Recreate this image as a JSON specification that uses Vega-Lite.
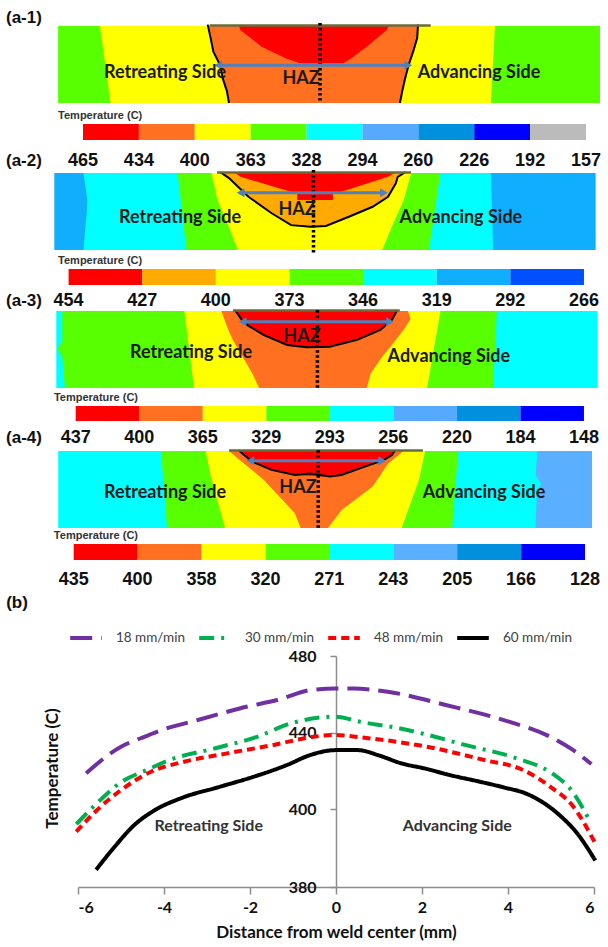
{
"$schema":"https://vega.github.io/schema/vega-lite/v6.json",
"width":608,"height":947,"autosize":"none","padding":0,"background":"white",
"config":{"view":{"stroke":null},"font":"Liberation Sans"},
"datasets":{
"curves":[
{"speed":"18 mm/min","x":-5.81,"T":418.7},{"speed":"18 mm/min","x":-5.0,"T":432.6},{"speed":"18 mm/min","x":-4.54,"T":437.0},{"speed":"18 mm/min","x":-4.0,"T":441.7},{"speed":"18 mm/min","x":-3.15,"T":446.9},{"speed":"18 mm/min","x":-2.22,"T":452.7},{"speed":"18 mm/min","x":-1.3,"T":457.4},{"speed":"18 mm/min","x":-0.6,"T":462.2},{"speed":"18 mm/min","x":0,"T":463},{"speed":"18 mm/min","x":0.4,"T":463},{"speed":"18 mm/min","x":1.2,"T":461.3},{"speed":"18 mm/min","x":2.55,"T":454.4},{"speed":"18 mm/min","x":3.9,"T":446.5},{"speed":"18 mm/min","x":4.98,"T":437.8},{"speed":"18 mm/min","x":5.5,"T":431},{"speed":"18 mm/min","x":5.94,"T":423.5},
{"speed":"30 mm/min","x":-6.04,"T":396.1},{"speed":"30 mm/min","x":-5.58,"T":402.6},{"speed":"30 mm/min","x":-5.0,"T":414.0},{"speed":"30 mm/min","x":-4.4,"T":420.4},{"speed":"30 mm/min","x":-3.9,"T":425.4},{"speed":"30 mm/min","x":-2.84,"T":431.6},{"speed":"30 mm/min","x":-1.84,"T":437.7},{"speed":"30 mm/min","x":-1.06,"T":444.7},{"speed":"30 mm/min","x":0,"T":448.3},{"speed":"30 mm/min","x":0.56,"T":445.6},{"speed":"30 mm/min","x":1.4,"T":442.5},{"speed":"30 mm/min","x":2.0,"T":439.5},{"speed":"30 mm/min","x":3.0,"T":433.5},{"speed":"30 mm/min","x":4.2,"T":426.5},{"speed":"30 mm/min","x":5.0,"T":419.0},{"speed":"30 mm/min","x":5.5,"T":409.0},{"speed":"30 mm/min","x":5.88,"T":397.4},
{"speed":"48 mm/min","x":-6.04,"T":394.2},{"speed":"48 mm/min","x":-5.58,"T":399.5},{"speed":"48 mm/min","x":-5.0,"T":409.9},{"speed":"48 mm/min","x":-4.3,"T":419.5},{"speed":"48 mm/min","x":-3.53,"T":424.7},{"speed":"48 mm/min","x":-2.53,"T":429.1},{"speed":"48 mm/min","x":-1.45,"T":433.5},{"speed":"48 mm/min","x":-0.52,"T":437.8},{"speed":"48 mm/min","x":0,"T":438.7},{"speed":"48 mm/min","x":0.56,"T":437.5},{"speed":"48 mm/min","x":1.4,"T":435.2},{"speed":"48 mm/min","x":2.1,"T":432.6},{"speed":"48 mm/min","x":3.45,"T":425.6},{"speed":"48 mm/min","x":4.35,"T":420.4},{"speed":"48 mm/min","x":4.98,"T":411.7},{"speed":"48 mm/min","x":5.52,"T":401.2},{"speed":"48 mm/min","x":6.01,"T":391.6},
{"speed":"60 mm/min","x":-5.58,"T":384.4},{"speed":"60 mm/min","x":-5.15,"T":390.3},{"speed":"60 mm/min","x":-4.69,"T":395.9},{"speed":"60 mm/min","x":-4.23,"T":399.6},{"speed":"60 mm/min","x":-3.61,"T":405.6},{"speed":"60 mm/min","x":-2.69,"T":411.7},{"speed":"60 mm/min","x":-1.91,"T":416.9},{"speed":"60 mm/min","x":-1.14,"T":423.0},{"speed":"60 mm/min","x":-0.6,"T":428.2},{"speed":"60 mm/min","x":0,"T":430.8},{"speed":"60 mm/min","x":0.5,"T":430.8},{"speed":"60 mm/min","x":1.0,"T":428.0},{"speed":"60 mm/min","x":1.5,"T":424.0},{"speed":"60 mm/min","x":2.1,"T":421.0},{"speed":"60 mm/min","x":2.6,"T":418.0},{"speed":"60 mm/min","x":3.3,"T":414.5},{"speed":"60 mm/min","x":3.9,"T":411.3},{"speed":"60 mm/min","x":4.45,"T":407.8},{"speed":"60 mm/min","x":5.17,"T":398.7},{"speed":"60 mm/min","x":5.62,"T":393.6},{"speed":"60 mm/min","x":6.03,"T":386.8}
],
"a1reg":[
{"reg":"r0","lv":4,"d":0,"xl":-9.7,"xr":10.37},{"reg":"r0","lv":4,"d":2.85,"xl":-9.7,"xr":10.37},
{"reg":"r1","lv":3,"d":0,"xl":-8.15,"xr":6.48},{"reg":"r1","lv":3,"d":2.85,"xl":-7.76,"xr":6.33},
{"reg":"r2","lv":2,"d":0,"xl":-4.16,"xr":3.63},{"reg":"r2","lv":2,"d":0.45,"xl":-4.05,"xr":3.6},{"reg":"r2","lv":2,"d":0.95,"xl":-3.95,"xr":3.45},{"reg":"r2","lv":2,"d":1.45,"xl":-3.7,"xr":3.28},{"reg":"r2","lv":2,"d":1.95,"xl":-3.6,"xr":3.15},{"reg":"r2","lv":2,"d":2.4,"xl":-3.45,"xr":3.05},{"reg":"r2","lv":2,"d":2.85,"xl":-3.37,"xr":2.96},
{"reg":"r3","lv":1,"d":0,"xl":-3.0,"xr":2.55},{"reg":"r3","lv":1,"d":0.15,"xl":-2.95,"xr":2.47},{"reg":"r3","lv":1,"d":0.77,"xl":-2.16,"xr":1.73},{"reg":"r3","lv":1,"d":1.2,"xl":-1.25,"xr":1.15},{"reg":"r3","lv":1,"d":1.38,"xl":-0.74,"xr":0.86}
],
"a1out":[
{"g":"L","s":1,"x":-4.16,"d":-0.05},{"g":"L","s":2,"x":-4.05,"d":0.45},{"g":"L","s":3,"x":-3.95,"d":0.95},{"g":"L","s":4,"x":-3.7,"d":1.45},{"g":"L","s":5,"x":-3.6,"d":1.95},{"g":"L","s":6,"x":-3.45,"d":2.4},{"g":"L","s":7,"x":-3.37,"d":2.85},
{"g":"R","s":1,"x":3.63,"d":-0.05},{"g":"R","s":2,"x":3.6,"d":0.45},{"g":"R","s":3,"x":3.45,"d":0.95},{"g":"R","s":4,"x":3.28,"d":1.45},{"g":"R","s":5,"x":3.15,"d":1.95},{"g":"R","s":6,"x":3.05,"d":2.4},{"g":"R","s":7,"x":2.96,"d":2.85}
],
"a1arr":[{"e":"L","x":-3.77,"d":1.45},{"e":"R","x":3.27,"d":1.45}],
"a1bar":[{"lv":1,"t":"465"},{"lv":2,"t":"434"},{"lv":3,"t":"400"},{"lv":4,"t":"363"},{"lv":5,"t":"328"},{"lv":6,"t":"294"},{"lv":7,"t":"260"},{"lv":8,"t":"226"},{"lv":9,"t":"192"},{"lv":10,"t":"157"}],
"a2reg":[
{"reg":"r0","lv":6,"d":0,"xl":-9.6,"xr":10.45},{"reg":"r0","lv":6,"d":2.85,"xl":-9.6,"xr":10.45},
{"reg":"r1","lv":5,"d":0,"xl":-8.52,"xr":6.57},{"reg":"r1","lv":5,"d":0.5,"xl":-8.45,"xr":6.58},{"reg":"r1","lv":5,"d":1.0,"xl":-8.38,"xr":6.6},{"reg":"r1","lv":5,"d":1.5,"xl":-8.4,"xr":6.62},{"reg":"r1","lv":5,"d":2.0,"xl":-8.45,"xr":6.63},{"reg":"r1","lv":5,"d":2.85,"xl":-8.52,"xr":6.65},
{"reg":"r2","lv":4,"d":0,"xl":-5.03,"xr":4.7},{"reg":"r2","lv":4,"d":2.85,"xl":-4.71,"xr":4.27},
{"reg":"r3","lv":3,"d":0,"xl":-3.78,"xr":3.62},{"reg":"r3","lv":3,"d":1.0,"xl":-3.56,"xr":3.34},{"reg":"r3","lv":3,"d":2.0,"xl":-3.13,"xr":2.9},{"reg":"r3","lv":3,"d":2.85,"xl":-2.81,"xr":2.54},
{"reg":"r4","lv":2,"d":0,"xl":-3.43,"xr":3.41},{"reg":"r4","lv":2,"d":0.15,"xl":-3.2,"xr":3.12},{"reg":"r4","lv":2,"d":0.4,"xl":-2.91,"xr":3.05},{"reg":"r4","lv":2,"d":0.88,"xl":-2.41,"xr":2.76},{"reg":"r4","lv":2,"d":1.25,"xl":-1.9,"xr":2.19},{"reg":"r4","lv":2,"d":1.5,"xl":-1.53,"xr":1.6},{"reg":"r4","lv":2,"d":1.62,"xl":-1.34,"xr":1.31},{"reg":"r4","lv":2,"d":1.93,"xl":-0.83,"xr":0.53},{"reg":"r4","lv":2,"d":1.96,"xl":-0.5,"xr":0.46},{"reg":"r4","lv":2,"d":1.99,"xl":-0.2,"xr":0.1},
{"reg":"r5","lv":1,"d":0,"xl":-2.9,"xr":3.0},{"reg":"r5","lv":1,"d":0.14,"xl":-2.7,"xr":2.76},{"reg":"r5","lv":1,"d":0.74,"xl":-0.69,"xr":0.89},{"reg":"r5","lv":1,"d":0.76,"xl":-0.6,"xr":0.72},{"reg":"r5","lv":1,"d":1.0,"xl":-0.6,"xr":0.72}
],
"a2out":[
{"g":"U","s":1,"x":-3.45,"d":-0.03},{"g":"U","s":2,"x":-3.13,"d":0.19},{"g":"U","s":3,"x":-2.41,"d":0.88},{"g":"U","s":4,"x":-1.55,"d":1.49},{"g":"U","s":5,"x":-0.83,"d":1.93},{"g":"U","s":6,"x":-0.11,"d":1.99},{"g":"U","s":7,"x":0.46,"d":1.96},{"g":"U","s":8,"x":1.31,"d":1.62},{"g":"U","s":9,"x":2.19,"d":1.25},{"g":"U","s":10,"x":2.76,"d":0.88},{"g":"U","s":11,"x":3.05,"d":0.38},{"g":"U","s":12,"x":3.12,"d":0.14},{"g":"U","s":13,"x":3.4,"d":-0.03}
],
"a2arr":[{"e":"L","x":-2.7,"d":0.73},{"e":"R","x":2.61,"d":0.73}],
"a2bar":[{"lv":1,"t":"454"},{"lv":2,"t":"427"},{"lv":3,"t":"400"},{"lv":4,"t":"373"},{"lv":5,"t":"346"},{"lv":6,"t":"319"},{"lv":7,"t":"292"},{"lv":8,"t":"266"}],
"a3reg":[
{"reg":"r0","lv":5,"d":0,"xl":-9.67,"xr":10.38},{"reg":"r0","lv":5,"d":2.85,"xl":-9.67,"xr":10.38},
{"reg":"r1","lv":4,"d":0,"xl":-9.45,"xr":6.64},{"reg":"r1","lv":4,"d":1.1,"xl":-9.45,"xr":6.6},{"reg":"r1","lv":4,"d":1.4,"xl":-9.62,"xr":6.58},{"reg":"r1","lv":4,"d":1.7,"xl":-9.45,"xr":6.56},{"reg":"r1","lv":4,"d":2.85,"xl":-9.35,"xr":6.5},
{"reg":"r2","lv":3,"d":0,"xl":-4.93,"xr":4.56},{"reg":"r2","lv":3,"d":2.85,"xl":-4.57,"xr":4.06},
{"reg":"r3","lv":2,"d":0,"xl":-3.56,"xr":3.35},{"reg":"r3","lv":2,"d":0.3,"xl":-3.45,"xr":3.45},{"reg":"r3","lv":2,"d":0.7,"xl":-3.3,"xr":3.19},{"reg":"r3","lv":2,"d":1.07,"xl":-3.13,"xr":2.9},{"reg":"r3","lv":2,"d":1.69,"xl":-2.77,"xr":2.4},{"reg":"r3","lv":2,"d":2.31,"xl":-2.41,"xr":1.97},{"reg":"r3","lv":2,"d":2.85,"xl":-2.16,"xr":1.83},
{"reg":"r4","lv":1,"d":0,"xl":-3.0,"xr":2.95},{"reg":"r4","lv":1,"d":0.33,"xl":-2.8,"xr":2.76},{"reg":"r4","lv":1,"d":0.46,"xl":-2.7,"xr":2.6},{"reg":"r4","lv":1,"d":0.7,"xl":-2.3,"xr":2.33},{"reg":"r4","lv":1,"d":0.89,"xl":-1.98,"xr":1.9},{"reg":"r4","lv":1,"d":1.07,"xl":-1.55,"xr":1.47},{"reg":"r4","lv":1,"d":1.26,"xl":-1.12,"xr":0.7},{"reg":"r4","lv":1,"d":1.34,"xl":-0.4,"xr":0.4}
],
"a3out":[
{"g":"U","s":1,"x":-3.05,"d":-0.03},{"g":"U","s":2,"x":-2.8,"d":0.33},{"g":"U","s":3,"x":-2.7,"d":0.46},{"g":"U","s":4,"x":-1.98,"d":0.89},{"g":"U","s":5,"x":-1.12,"d":1.26},{"g":"U","s":6,"x":-0.4,"d":1.34},{"g":"U","s":7,"x":0.46,"d":1.32},{"g":"U","s":8,"x":1.47,"d":1.07},{"g":"U","s":9,"x":2.33,"d":0.7},{"g":"U","s":10,"x":2.76,"d":0.33},{"g":"U","s":11,"x":2.95,"d":-0.03}
],
"a3arr":[{"e":"L","x":-2.77,"d":0.4},{"e":"R","x":2.69,"d":0.4}],
"a3bar":[{"lv":1,"t":"437"},{"lv":2,"t":"400"},{"lv":3,"t":"365"},{"lv":4,"t":"329"},{"lv":5,"t":"293"},{"lv":6,"t":"256"},{"lv":7,"t":"220"},{"lv":8,"t":"184"},{"lv":9,"t":"148"}],
"a4reg":[
{"reg":"r0","lv":5,"d":0,"xl":-9.63,"xr":10.14},{"reg":"r0","lv":5,"d":2.85,"xl":-9.63,"xr":10.14},
{"reg":"r1","lv":6,"d":0,"xl":8.12,"xr":10.14},{"reg":"r1","lv":6,"d":0.9,"xl":8.05,"xr":10.14},{"reg":"r1","lv":6,"d":1.2,"xl":8.26,"xr":10.14},{"reg":"r1","lv":6,"d":1.5,"xl":8.1,"xr":10.14},{"reg":"r1","lv":6,"d":2.85,"xl":8.05,"xr":10.14},
{"reg":"r2","lv":4,"d":0,"xl":-5.82,"xr":5.18},{"reg":"r2","lv":4,"d":2.85,"xl":-5.6,"xr":4.96},
{"reg":"r3","lv":3,"d":0,"xl":-4.17,"xr":3.96},{"reg":"r3","lv":3,"d":1.07,"xl":-3.95,"xr":3.73},{"reg":"r3","lv":3,"d":2.85,"xl":-3.45,"xr":3.09},
{"reg":"r4","lv":2,"d":0,"xl":-3.3,"xr":3.16},{"reg":"r4","lv":2,"d":0.46,"xl":-2.75,"xr":2.59},{"reg":"r4","lv":2,"d":1.07,"xl":-2.01,"xr":2.18},{"reg":"r4","lv":2,"d":1.32,"xl":-1.78,"xr":2.01},{"reg":"r4","lv":2,"d":2.19,"xl":-0.97,"xr":0.86},{"reg":"r4","lv":2,"d":2.31,"xl":-0.86,"xr":0.77},{"reg":"r4","lv":2,"d":2.85,"xl":-0.65,"xr":0.36},
{"reg":"r5","lv":1,"d":0,"xl":-2.9,"xr":2.85},{"reg":"r5","lv":1,"d":0.15,"xl":-2.75,"xr":2.73},{"reg":"r5","lv":1,"d":0.33,"xl":-2.5,"xr":2.44},{"reg":"r5","lv":1,"d":0.4,"xl":-2.44,"xr":2.24},{"reg":"r5","lv":1,"d":0.58,"xl":-2.0,"xr":1.73},{"reg":"r5","lv":1,"d":0.7,"xl":-1.73,"xr":1.39},{"reg":"r5","lv":1,"d":0.83,"xl":-1.13,"xr":1.03},{"reg":"r5","lv":1,"d":0.89,"xl":-0.86,"xr":0.86},{"reg":"r5","lv":1,"d":0.94,"xl":0.2,"xr":0.6}
],
"a4out":[
{"g":"U","s":1,"x":-2.95,"d":-0.03},{"g":"U","s":2,"x":-2.44,"d":0.4},{"g":"U","s":3,"x":-1.73,"d":0.7},{"g":"U","s":4,"x":-0.86,"d":0.89},{"g":"U","s":5,"x":-0.29,"d":0.83},{"g":"U","s":6,"x":0.43,"d":0.94},{"g":"U","s":7,"x":0.86,"d":0.89},{"g":"U","s":8,"x":1.73,"d":0.58},{"g":"U","s":9,"x":2.44,"d":0.33},{"g":"U","s":10,"x":2.73,"d":0.15},{"g":"U","s":11,"x":2.85,"d":-0.03}
],
"a4arr":[{"e":"L","x":-2.51,"d":0.36},{"e":"R","x":2.37,"d":0.36}],
"a4bar":[{"lv":1,"t":"435"},{"lv":2,"t":"400"},{"lv":3,"t":"358"},{"lv":4,"t":"320"},{"lv":5,"t":"271"},{"lv":6,"t":"243"},{"lv":7,"t":"205"},{"lv":8,"t":"166"},{"lv":9,"t":"128"}]
},
"layer":[
{
 "data":{"name":"curves"},
 "layer":[
  {"mark":{"type":"line","interpolate":"monotone","strokeWidth":4,"strokeCap":"butt"},
   "encoding":{
    "x":{"field":"x","type":"quantitative","scale":{"domain":[-6,6],"range":[78,594],"nice":false,"zero":false},
      "axis":{"orient":"bottom","offset":-60,"values":[-6,-4,-2,0,2,4,6],"labelExpr":"replace(datum.label, '\u2212', '-')","grid":false,"domainColor":"#8c8c8c","domainWidth":1.5,"tickColor":"#8c8c8c","tickWidth":1.5,"tickSize":7,"labelFont":"Lato","labelFontWeight":"bold","labelFontSize":16,"labelColor":"#111","labelPadding":5,"title":"Distance from weld center (mm)","titleFont":"Lato","titleFontSize":17,"titleFontWeight":"bold","titleColor":"#111","titlePadding":9}},
    "y":{"field":"T","type":"quantitative","scale":{"domain":[380,400,480],"range":[887,809,656],"nice":false,"zero":false},
      "axis":{"orient":"left","offset":-336,"values":[380,400,440,480],"grid":false,"domainColor":"#8c8c8c","domainWidth":1.5,"tickColor":"#8c8c8c","tickWidth":1.5,"tickSize":6,"labelFont":"Lato","labelFontWeight":"bold","labelFontSize":16,"labelColor":"#111","labelPadding":14,"title":"Temperature (C)","titleFont":"Lato","titleFontSize":17,"titleFontWeight":"bold","titleColor":"#111","titleX":-284,"titleY":768,"titleAngle":-90,"titleAlign":"center","titleBaseline":"middle"}},
    "color":{"field":"speed","type":"nominal","scale":{"domain":["18 mm/min","30 mm/min","48 mm/min","60 mm/min"],"range":["#7030A0","#00B050","#FF0000","#000000"]},
      "legend":{"orient":"none","legendX":68,"legendY":620,"direction":"horizontal","title":null,"symbolType":"stroke","symbolSize":1000,"symbolStrokeWidth":4,"labelFont":"Lato","labelFontSize":13.5,"labelColor":"#404040","labelOffset":12,"columnPadding":6,"padding":0}},
    "strokeDash":{"field":"speed","type":"nominal","scale":{"domain":["18 mm/min","30 mm/min","48 mm/min","60 mm/min"],"range":[[22,9],[15,7,3,7],[8,5],[1,0]]}}
   }},
  {"data":{"values":[{}]},"mark":{"type":"text","text":"Retreating Side","font":"Lato","fontWeight":"bold","fontSize":16,"color":"#333"},"encoding":{"x":{"datum":-2.96},"y":{"datum":395.6}}},
  {"data":{"values":[{}]},"mark":{"type":"text","text":"Advancing Side","font":"Lato","fontWeight":"bold","fontSize":16,"color":"#333"},"encoding":{"x":{"datum":2.82},"y":{"datum":395.6}}},
  {"data":{"values":[{}]},"mark":{"type":"text","text":"(b)","align":"left","font":"Liberation Sans","fontWeight":"bold","fontSize":17,"color":"#111"},"encoding":{"x":{"datum":-7.67},"y":{"datum":507.7}}}
 ]
},
{
 "layer":[
  {"layer":[
    {"data":{"name":"a1reg"},"mark":{"type":"area","orient":"horizontal"},
     "encoding":{
      "y":{"field":"d","type":"quantitative","scale":{"domain":[0,2.85],"range":[26,103],"nice":false,"zero":false},"axis":null},
      "x":{"field":"xl","type":"quantitative","scale":{"domain":[-12,12],"range":[-4,644],"nice":false,"zero":false},"axis":null,"stack":null},
      "x2":{"field":"xr"},
      "color":{"field":"lv","type":"ordinal","scale":{"domain":[1,2,3,4,5,6,7,8,9],"range":["#FF0000","#FF7020","#FFFF00","#58FF00","#00FFFF","#55AAFF","#0090DD","#0000FF","#BBBBBB"]},"legend":null},
      "detail":{"field":"reg"}}},
    {"data":{"name":"a1out"},"mark":{"type":"line","stroke":"#000","strokeWidth":2},"encoding":{"x":{"field":"x","type":"quantitative"},"y":{"field":"d","type":"quantitative"},"detail":{"field":"g"},"order":{"field":"s"}}},
    {"data":{"values":[{}]},"mark":{"type":"rule","stroke":"#6b6b3a","strokeWidth":2.5},"encoding":{"x":{"datum":-4.09},"x2":{"datum":4.1},"y":{"datum":-0.02}}},
    {"data":{"values":[{}]},"mark":{"type":"rule","stroke":"#000","strokeWidth":3.5,"strokeDash":[2.5,2.5]},"encoding":{"x":{"datum":0},"y":{"datum":-0.11},"y2":{"datum":2.85}}},
    {"data":{"name":"a1arr"},"mark":{"type":"line","stroke":"#4F81BD","strokeWidth":3},"encoding":{"x":{"field":"x","type":"quantitative"},"y":{"field":"d","type":"quantitative"}}},
    {"data":{"name":"a1arr"},"mark":{"type":"point","filled":true,"color":"#4F81BD","opacity":1,"size":80},"encoding":{"x":{"field":"x","type":"quantitative"},"y":{"field":"d","type":"quantitative"},"shape":{"field":"e","type":"nominal","scale":{"domain":["L","R"],"range":["triangle-left","triangle-right"]},"legend":null}}},
    {"data":{"values":[{}]},"mark":{"type":"text","text":"Retreating Side","font":"Lato","fontWeight":"bold","fontSize":18,"color":"#1a1a1a"},"encoding":{"x":{"datum":-5.74},"y":{"datum":1.74}}},
    {"data":{"values":[{}]},"mark":{"type":"text","text":"Advancing Side","font":"Lato","fontWeight":"bold","fontSize":18,"color":"#1a1a1a"},"encoding":{"x":{"datum":5.89},"y":{"datum":1.74}}},
    {"data":{"values":[{}]},"mark":{"type":"text","text":"HAZ","font":"Lato","fontWeight":"bold","fontSize":18,"color":"#1a1a1a"},"encoding":{"x":{"datum":-0.7},"y":{"datum":1.98}}},
    {"data":{"values":[{}]},"mark":{"type":"text","text":"(a-1)","align":"left","font":"Liberation Sans","fontWeight":"bold","fontSize":17,"color":"#111"},"encoding":{"x":{"datum":-11.63},"y":{"datum":-0.3}}},
    {"data":{"values":[{}]},"mark":{"type":"text","text":"Temperature (C)","align":"left","font":"Liberation Sans","fontWeight":"bold","fontSize":11,"color":"#333"},"encoding":{"x":{"datum":-9.7},"y":{"datum":3.33}}}
  ]},
  {"data":{"name":"a1bar"},
   "layer":[
    {"transform":[{"filter":"datum.lv < 10"}],"mark":{"type":"rect"},
     "encoding":{
      "x":{"field":"lv","type":"ordinal","scale":{"type":"band","domain":[1,2,3,4,5,6,7,8,9,10],"range":[83,641.9],"paddingInner":0,"paddingOuter":0},"axis":null},
      "y":{"datum":0,"type":"quantitative","scale":{"domain":[0,1],"range":[124,140],"nice":false,"zero":false},"axis":null},
      "y2":{"datum":1},
      "color":{"field":"lv","type":"ordinal","scale":{"domain":[1,2,3,4,5,6,7,8,9],"range":["#FF0000","#FF7020","#FFFF00","#58FF00","#00FFFF","#55AAFF","#0090DD","#0000FF","#BBBBBB"]},"legend":null}}},
    {"mark":{"type":"text","font":"Liberation Sans","fontWeight":"bold","fontSize":18,"color":"#111"},
     "encoding":{"x":{"field":"lv","type":"ordinal","bandPosition":0,"scale":{"type":"band","domain":[1,2,3,4,5,6,7,8,9,10],"range":[83,641.9],"paddingInner":0,"paddingOuter":0}},"y":{"datum":2.31},"text":{"field":"t"}}}
   ]}
 ],
 "resolve":{"scale":{"x":"independent","y":"independent"}}
},
{
 "layer":[
  {"layer":[
    {"data":{"name":"a2reg"},"mark":{"type":"area","orient":"horizontal"},
     "encoding":{
      "y":{"field":"d","type":"quantitative","scale":{"domain":[0,2.85],"range":[173,250],"nice":false,"zero":false},"axis":null},
      "x":{"field":"xl","type":"quantitative","scale":{"domain":[-12,12],"range":[-10.5,637.5],"nice":false,"zero":false},"axis":null,"stack":null},
      "x2":{"field":"xr"},
      "color":{"field":"lv","type":"ordinal","scale":{"domain":[1,2,3,4,5,6,7],"range":["#FF0000","#FFAA00","#FFFF00","#58FF00","#00FFFF","#10AEFF","#0050FF"]},"legend":null},
      "detail":{"field":"reg"}}},
    {"data":{"name":"a2out"},"mark":{"type":"line","stroke":"#000","strokeWidth":2},"encoding":{"x":{"field":"x","type":"quantitative"},"y":{"field":"d","type":"quantitative"},"detail":{"field":"g"},"order":{"field":"s"}}},
    {"data":{"values":[{}]},"mark":{"type":"rule","stroke":"#6b6b3a","strokeWidth":2.5},"encoding":{"x":{"datum":-3.57},"x2":{"datum":3.61},"y":{"datum":-0.02}}},
    {"data":{"values":[{}]},"mark":{"type":"rule","stroke":"#000","strokeWidth":3.5,"strokeDash":[2.5,2.5]},"encoding":{"x":{"datum":0},"y":{"datum":-0.11},"y2":{"datum":2.96}}},
    {"data":{"name":"a2arr"},"mark":{"type":"line","stroke":"#4F81BD","strokeWidth":3},"encoding":{"x":{"field":"x","type":"quantitative"},"y":{"field":"d","type":"quantitative"}}},
    {"data":{"name":"a2arr"},"mark":{"type":"point","filled":true,"color":"#4F81BD","opacity":1,"size":80},"encoding":{"x":{"field":"x","type":"quantitative"},"y":{"field":"d","type":"quantitative"},"shape":{"field":"e","type":"nominal","scale":{"domain":["L","R"],"range":["triangle-left","triangle-right"]},"legend":null}}},
    {"data":{"values":[{}]},"mark":{"type":"text","text":"Retreating Side","font":"Lato","fontWeight":"bold","fontSize":18,"color":"#1a1a1a"},"encoding":{"x":{"datum":-4.94},"y":{"datum":1.68}}},
    {"data":{"values":[{}]},"mark":{"type":"text","text":"Advancing Side","font":"Lato","fontWeight":"bold","fontSize":18,"color":"#1a1a1a"},"encoding":{"x":{"datum":5.46},"y":{"datum":1.68}}},
    {"data":{"values":[{}]},"mark":{"type":"text","text":"HAZ","font":"Lato","fontWeight":"bold","fontSize":18,"color":"#1a1a1a"},"encoding":{"x":{"datum":-0.61},"y":{"datum":1.37}}},
    {"data":{"values":[{}]},"mark":{"type":"text","text":"(a-2)","align":"left","font":"Liberation Sans","fontWeight":"bold","fontSize":17,"color":"#111"},"encoding":{"x":{"datum":-11.39},"y":{"datum":-0.44}}},
    {"data":{"values":[{}]},"mark":{"type":"text","text":"Temperature (C)","align":"left","font":"Liberation Sans","fontWeight":"bold","fontSize":11,"color":"#333"},"encoding":{"x":{"datum":-9.46},"y":{"datum":3.26}}}
  ]},
  {"data":{"name":"a2bar"},
   "layer":[
    {"transform":[{"filter":"datum.lv < 8"}],"mark":{"type":"rect"},
     "encoding":{
      "x":{"field":"lv","type":"ordinal","scale":{"type":"band","domain":[1,2,3,4,5,6,7,8],"range":[68.6,657.6],"paddingInner":0,"paddingOuter":0},"axis":null},
      "y":{"datum":0,"type":"quantitative","scale":{"domain":[0,1],"range":[269,285],"nice":false,"zero":false},"axis":null},
      "y2":{"datum":1},
      "color":{"field":"lv","type":"ordinal","scale":{"domain":[1,2,3,4,5,6,7],"range":["#FF0000","#FFAA00","#FFFF00","#58FF00","#00FFFF","#10AEFF","#0050FF"]},"legend":null}}},
    {"mark":{"type":"text","font":"Liberation Sans","fontWeight":"bold","fontSize":18,"color":"#111"},
     "encoding":{"x":{"field":"lv","type":"ordinal","bandPosition":0,"scale":{"type":"band","domain":[1,2,3,4,5,6,7,8],"range":[68.6,657.6],"paddingInner":0,"paddingOuter":0}},"y":{"datum":2.0},"text":{"field":"t"}}}
   ]}
 ],
 "resolve":{"scale":{"x":"independent","y":"independent"}}
},
{
 "layer":[
  {"layer":[
    {"data":{"name":"a3reg"},"mark":{"type":"area","orient":"horizontal"},
     "encoding":{
      "y":{"field":"d","type":"quantitative","scale":{"domain":[0,2.85],"range":[311,388],"nice":false,"zero":false},"axis":null},
      "x":{"field":"xl","type":"quantitative","scale":{"domain":[-12,12],"range":[-6.6,641.4],"nice":false,"zero":false},"axis":null,"stack":null},
      "x2":{"field":"xr"},
      "color":{"field":"lv","type":"ordinal","scale":{"domain":[1,2,3,4,5,6,7,8],"range":["#FF0000","#FF7020","#FFFF00","#58FF00","#00FFFF","#55AAFF","#0090DD","#0000FF"]},"legend":null},
      "detail":{"field":"reg"}}},
    {"data":{"name":"a3out"},"mark":{"type":"line","stroke":"#000","strokeWidth":2},"encoding":{"x":{"field":"x","type":"quantitative"},"y":{"field":"d","type":"quantitative"},"detail":{"field":"g"},"order":{"field":"s"}}},
    {"data":{"values":[{}]},"mark":{"type":"rule","stroke":"#6b6b3a","strokeWidth":2.5},"encoding":{"x":{"datum":-3.13},"x2":{"datum":3.05},"y":{"datum":-0.02}}},
    {"data":{"values":[{}]},"mark":{"type":"rule","stroke":"#000","strokeWidth":3.5,"strokeDash":[2.5,2.5]},"encoding":{"x":{"datum":0},"y":{"datum":-0.03},"y2":{"datum":2.9}}},
    {"data":{"name":"a3arr"},"mark":{"type":"line","stroke":"#4F81BD","strokeWidth":3},"encoding":{"x":{"field":"x","type":"quantitative"},"y":{"field":"d","type":"quantitative"}}},
    {"data":{"name":"a3arr"},"mark":{"type":"point","filled":true,"color":"#4F81BD","opacity":1,"size":80},"encoding":{"x":{"field":"x","type":"quantitative"},"y":{"field":"d","type":"quantitative"},"shape":{"field":"e","type":"nominal","scale":{"domain":["L","R"],"range":["triangle-left","triangle-right"]},"legend":null}}},
    {"data":{"values":[{}]},"mark":{"type":"text","text":"Retreating Side","font":"Lato","fontWeight":"bold","fontSize":18,"color":"#1a1a1a"},"encoding":{"x":{"datum":-4.68},"y":{"datum":1.57}}},
    {"data":{"values":[{}]},"mark":{"type":"text","text":"Advancing Side","font":"Lato","fontWeight":"bold","fontSize":18,"color":"#1a1a1a"},"encoding":{"x":{"datum":4.87},"y":{"datum":1.69}}},
    {"data":{"values":[{}]},"mark":{"type":"text","text":"HAZ","font":"Lato","fontWeight":"bold","fontSize":18,"color":"#1a1a1a"},"encoding":{"x":{"datum":-0.57},"y":{"datum":0.95}}},
    {"data":{"values":[{}]},"mark":{"type":"text","text":"(a-3)","align":"left","font":"Liberation Sans","fontWeight":"bold","fontSize":17,"color":"#111"},"encoding":{"x":{"datum":-11.53},"y":{"datum":-0.37}}},
    {"data":{"values":[{}]},"mark":{"type":"text","text":"Temperature (C)","align":"left","font":"Liberation Sans","fontWeight":"bold","fontSize":11,"color":"#333"},"encoding":{"x":{"datum":-9.76},"y":{"datum":3.22}}}
  ]},
  {"data":{"name":"a3bar"},
   "layer":[
    {"transform":[{"filter":"datum.lv < 9"}],"mark":{"type":"rect"},
     "encoding":{
      "x":{"field":"lv","type":"ordinal","scale":{"type":"band","domain":[1,2,3,4,5,6,7,8,9],"range":[75.7,647.5],"paddingInner":0,"paddingOuter":0},"axis":null},
      "y":{"datum":0,"type":"quantitative","scale":{"domain":[0,1],"range":[406,421],"nice":false,"zero":false},"axis":null},
      "y2":{"datum":1},
      "color":{"field":"lv","type":"ordinal","scale":{"domain":[1,2,3,4,5,6,7,8],"range":["#FF0000","#FF7020","#FFFF00","#58FF00","#00FFFF","#55AAFF","#0090DD","#0000FF"]},"legend":null}}},
    {"mark":{"type":"text","font":"Liberation Sans","fontWeight":"bold","fontSize":18,"color":"#111"},
     "encoding":{"x":{"field":"lv","type":"ordinal","bandPosition":0,"scale":{"type":"band","domain":[1,2,3,4,5,6,7,8,9],"range":[75.7,647.5],"paddingInner":0,"paddingOuter":0}},"y":{"datum":2.13},"text":{"field":"t"}}}
   ]}
 ],
 "resolve":{"scale":{"x":"independent","y":"independent"}}
},
{
 "layer":[
  {"layer":[
    {"data":{"name":"a4reg"},"mark":{"type":"area","orient":"horizontal"},
     "encoding":{
      "y":{"field":"d","type":"quantitative","scale":{"domain":[0,2.85],"range":[451,528],"nice":false,"zero":false},"axis":null},
      "x":{"field":"xl","type":"quantitative","scale":{"domain":[-12,12],"range":[-5.8,642.2],"nice":false,"zero":false},"axis":null,"stack":null},
      "x2":{"field":"xr"},
      "color":{"field":"lv","type":"ordinal","scale":{"domain":[1,2,3,4,5,6,7,8],"range":["#FF0000","#FF7020","#FFFF00","#58FF00","#00FFFF","#5AB0FF","#0090DD","#0000FF"]},"legend":null},
      "detail":{"field":"reg"}}},
    {"data":{"name":"a4out"},"mark":{"type":"line","stroke":"#000","strokeWidth":2},"encoding":{"x":{"field":"x","type":"quantitative"},"y":{"field":"d","type":"quantitative"},"detail":{"field":"g"},"order":{"field":"s"}}},
    {"data":{"values":[{}]},"mark":{"type":"rule","stroke":"#6b6b3a","strokeWidth":2.5},"encoding":{"x":{"datum":-3.3},"x2":{"datum":3.88},"y":{"datum":-0.02}}},
    {"data":{"values":[{}]},"mark":{"type":"rule","stroke":"#000","strokeWidth":3.5,"strokeDash":[2.5,2.5]},"encoding":{"x":{"datum":0},"y":{"datum":-0.03},"y2":{"datum":2.87}}},
    {"data":{"name":"a4arr"},"mark":{"type":"line","stroke":"#4F81BD","strokeWidth":3},"encoding":{"x":{"field":"x","type":"quantitative"},"y":{"field":"d","type":"quantitative"}}},
    {"data":{"name":"a4arr"},"mark":{"type":"point","filled":true,"color":"#4F81BD","opacity":1,"size":80},"encoding":{"x":{"field":"x","type":"quantitative"},"y":{"field":"d","type":"quantitative"},"shape":{"field":"e","type":"nominal","scale":{"domain":["L","R"],"range":["triangle-left","triangle-right"]},"legend":null}}},
    {"data":{"values":[{}]},"mark":{"type":"text","text":"Retreating Side","font":"Lato","fontWeight":"bold","fontSize":18,"color":"#1a1a1a"},"encoding":{"x":{"datum":-5.67},"y":{"datum":1.57}}},
    {"data":{"values":[{}]},"mark":{"type":"text","text":"Advancing Side","font":"Lato","fontWeight":"bold","fontSize":18,"color":"#1a1a1a"},"encoding":{"x":{"datum":6.14},"y":{"datum":1.57}}},
    {"data":{"values":[{}]},"mark":{"type":"text","text":"HAZ","font":"Lato","fontWeight":"bold","fontSize":18,"color":"#1a1a1a"},"encoding":{"x":{"datum":-0.75},"y":{"datum":1.38}}},
    {"data":{"values":[{}]},"mark":{"type":"text","text":"(a-4)","align":"left","font":"Liberation Sans","fontWeight":"bold","fontSize":17,"color":"#111"},"encoding":{"x":{"datum":-11.56},"y":{"datum":-0.48}}},
    {"data":{"values":[{}]},"mark":{"type":"text","text":"Temperature (C)","align":"left","font":"Liberation Sans","fontWeight":"bold","fontSize":11,"color":"#333"},"encoding":{"x":{"datum":-9.79},"y":{"datum":3.15}}}
  ]},
  {"data":{"name":"a4bar"},
   "layer":[
    {"transform":[{"filter":"datum.lv < 9"}],"mark":{"type":"rect"},
     "encoding":{
      "x":{"field":"lv","type":"ordinal","scale":{"type":"band","domain":[1,2,3,4,5,6,7,8,9],"range":[73.7,648.9],"paddingInner":0,"paddingOuter":0},"axis":null},
      "y":{"datum":0,"type":"quantitative","scale":{"domain":[0,1],"range":[544,560],"nice":false,"zero":false},"axis":null},
      "y2":{"datum":1},
      "color":{"field":"lv","type":"ordinal","scale":{"domain":[1,2,3,4,5,6,7,8],"range":["#FF0000","#FF7020","#FFFF00","#58FF00","#00FFFF","#5AB0FF","#0090DD","#0000FF"]},"legend":null}}},
    {"mark":{"type":"text","font":"Liberation Sans","fontWeight":"bold","fontSize":18,"color":"#111"},
     "encoding":{"x":{"field":"lv","type":"ordinal","bandPosition":0,"scale":{"type":"band","domain":[1,2,3,4,5,6,7,8,9],"range":[73.7,648.9],"paddingInner":0,"paddingOuter":0}},"y":{"datum":2.25},"text":{"field":"t"}}}
   ]}
 ],
 "resolve":{"scale":{"x":"independent","y":"independent"}}
}
],
"resolve":{"scale":{"x":"independent","y":"independent","color":"independent","strokeDash":"independent"}}
}
